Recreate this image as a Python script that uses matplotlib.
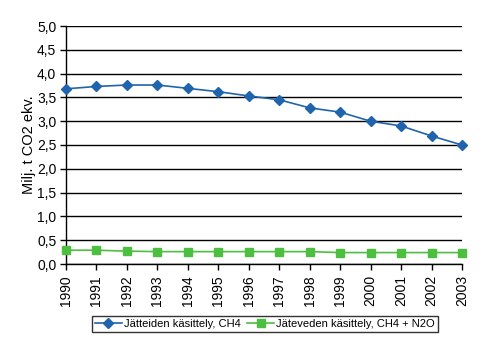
import numpy as np
import matplotlib
matplotlib.use('Agg')
import matplotlib.pyplot as plt
from matplotlib.ticker import FuncFormatter

plt.rcParams['font.family'] = ['Liberation Sans', 'DejaVu Sans']

years = list(range(1990, 2004))
jatteiden = [3.68, 3.73, 3.76, 3.76, 3.69, 3.62, 3.53, 3.45, 3.28, 3.19, 3.00, 2.90, 2.69, 2.50]
jateveden = [0.29, 0.29, 0.27, 0.26, 0.26, 0.26, 0.26, 0.26, 0.26, 0.24, 0.24, 0.24, 0.24, 0.24]

fig = plt.figure(figsize=(4.9, 3.45), dpi=100)
ax = fig.add_axes([66 / 490, 1 - 264 / 345, 396 / 490, 238 / 345])

ax.plot(years, jatteiden, color='#1f64ad', marker='D', markersize=5, lw=1.2,
        label='Jätteiden käsittely, CH4', clip_on=False, zorder=3)
ax.plot(years, jateveden, color='#4cbf40', marker='s', markersize=6, lw=1.2,
        label='Jäteveden käsittely, CH4 + N2O', clip_on=False, zorder=3)

ax.set_xlim(1990, 2003)
ax.set_ylim(0, 5)
ax.set_xticks(years)
ax.set_xticklabels([str(y) for y in years], rotation=90, fontsize=10)
ax.set_yticks(np.arange(0, 5.01, 0.5))
ax.yaxis.set_major_formatter(FuncFormatter(lambda v, p: f'{v:.1f}'.replace('.', ',')))
ax.tick_params(axis='y', labelsize=10, length=4, width=1, pad=3)
ax.tick_params(axis='x', length=4, width=1, pad=4)
ax.grid(axis='y', color='black', lw=1)
ax.set_axisbelow(True)
for s in ['top', 'right']:
    ax.spines[s].set_visible(False)
ax.spines['left'].set_linewidth(1)
ax.spines['bottom'].set_linewidth(1)
ax.set_ylabel('Milj. t CO2 ekv.', fontsize=10.5, labelpad=1)

leg = fig.legend(loc='center', bbox_to_anchor=(265 / 490, 1 - 324 / 345), ncol=2,
                 fontsize=8, frameon=True, fancybox=False, edgecolor='black',
                 handlelength=2.4, columnspacing=0.6, borderpad=0.3, handletextpad=0.2)
leg.get_frame().set_linewidth(1)

fig.savefig('out.png', dpi=100)
